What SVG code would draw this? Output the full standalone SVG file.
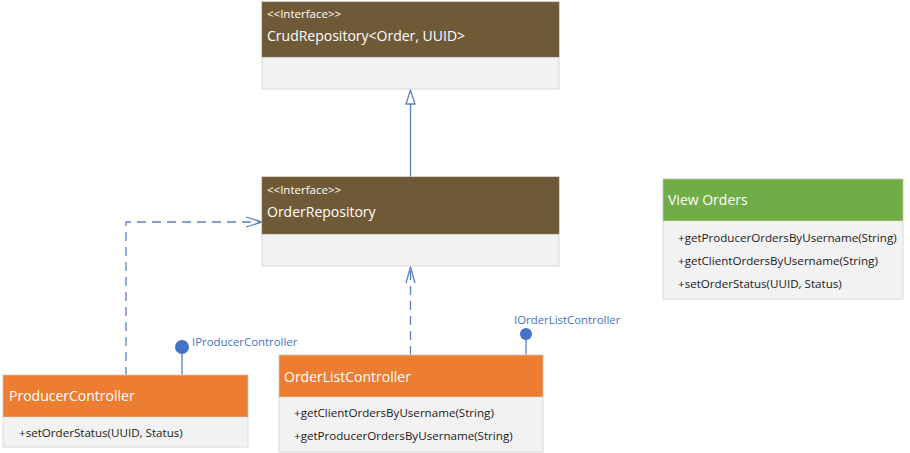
<svg xmlns="http://www.w3.org/2000/svg" width="910" height="453" viewBox="0 0 910 453">
<defs>
<style>
.t{font-family:"Segoe UI","Open Sans","Noto Sans",sans-serif;fill:#ffffff}
.st{font-size:11.5px}
.ti{font-size:14px}
.m{font-family:"Segoe UI","Open Sans","Noto Sans",sans-serif;font-size:11.6px;fill:#1a1a1a}
.lab{font-family:"Segoe UI","Open Sans","Noto Sans",sans-serif;font-size:11.4px;fill:#4472C4}
.body{fill:#F2F2F2;stroke:#D9D9D9;stroke-width:1}
.brown{fill:#6F5A38;stroke:#8a7a5c;stroke-width:0.5}
.orange{fill:#ED7D31;stroke:#D9D9D9;stroke-width:0.5}
.green{fill:#70AD47;stroke:#D9D9D9;stroke-width:0.5}
.ln{fill:none;stroke:#5B7FC0;stroke-width:1.3}
.dash{stroke-dasharray:9,6}
</style>
</defs>
<g id="connectors">
<line class="ln" x1="410.5" y1="179" x2="410.5" y2="104"/>
<polygon points="410.5,90 406,104 415,104" fill="#ffffff" stroke="#5B7FC0" stroke-width="1.3"/>
<polyline class="ln dash" points="126,376 126,222 261,222"/>
<polyline class="ln" points="246,217 262,222 246,227"/>
<line class="ln dash" x1="410.5" y1="355" x2="410.5" y2="268"/>
<polyline class="ln" points="406,283 410.5,267 415,283"/>
<line class="ln" x1="182" y1="350" x2="182" y2="375"/>
<circle cx="182" cy="347" r="7" fill="#4472C4"/>
<line class="ln" x1="526" y1="336" x2="526" y2="355"/>
<circle cx="526" cy="334" r="6" fill="#4472C4"/>
</g>
<g id="crudrepository">
<rect class="body" x="262" y="2" width="297" height="87"/>
<rect class="brown" x="262" y="2" width="297" height="55"/>
<text class="t st" x="267" y="18">&lt;&lt;Interface&gt;&gt;</text>
<text class="t ti" x="267" y="41">CrudRepository&lt;Order, UUID&gt;</text>
</g>
<g id="orderrepository">
<rect class="body" x="262" y="177" width="297" height="89"/>
<rect class="brown" x="262" y="177" width="297" height="57"/>
<text class="t st" x="267" y="194">&lt;&lt;Interface&gt;&gt;</text>
<text class="t ti" x="267" y="217">OrderRepository</text>
</g>
<g id="producercontroller">
<rect class="body" x="3" y="375" width="245" height="72"/>
<rect class="orange" x="3" y="375" width="245" height="42"/>
<text class="t ti" x="9" y="401">ProducerController</text>
<text class="m" x="19" y="437">+setOrderStatus(UUID, Status)</text>
<text class="lab" x="192" y="346">IProducerController</text>
</g>
<g id="orderlistcontroller">
<rect class="body" x="279" y="355" width="264" height="97"/>
<rect class="orange" x="279" y="355" width="264" height="42"/>
<text class="t ti" x="284" y="382">OrderListController</text>
<text class="m" x="294" y="417">+getClientOrdersByUsername(String)</text>
<text class="m" x="294" y="440">+getProducerOrdersByUsername(String)</text>
<text class="lab" x="514" y="324">IOrderListController</text>
</g>
<g id="vieworders">
<rect class="body" x="663" y="179" width="240" height="120"/>
<rect class="green" x="663" y="179" width="240" height="42"/>
<text class="t ti" x="668" y="205">View Orders</text>
<text class="m" x="678" y="242">+getProducerOrdersByUsername(String)</text>
<text class="m" x="678" y="265">+getClientOrdersByUsername(String)</text>
<text class="m" x="678" y="288">+setOrderStatus(UUID, Status)</text>
</g>
</svg>
